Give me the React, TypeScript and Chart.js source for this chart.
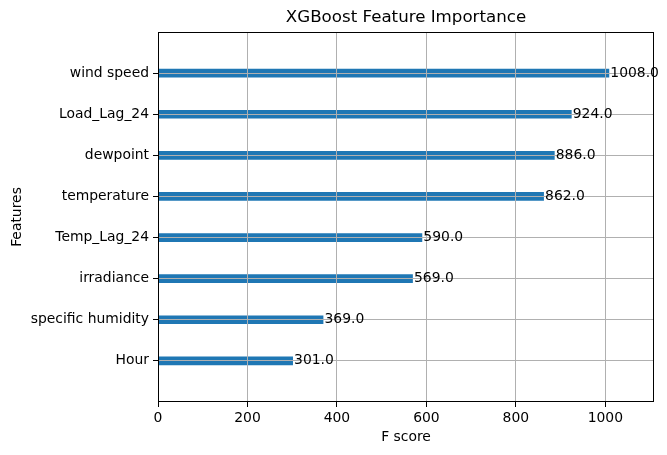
import React, { useEffect, useRef } from "react";
import { Chart, registerables } from "chart.js";

Chart.register(...registerables);

const features: string[] = [
  "wind speed",
  "Load_Lag_24",
  "dewpoint",
  "temperature",
  "Temp_Lag_24",
  "irradiance",
  "specific humidity",
  "Hour",
];
const scores: number[] = [1008, 924, 886, 862, 590, 569, 369, 301];
const xTicks: number[] = [0, 200, 400, 600, 800, 1000];
const titleText = "XGBoost Feature Importance";
const xTitle = "F score";
const yTitle = "Features";

const FONT = "'DejaVu Sans', sans-serif";
const FS = 13.9;

export default function App() {
  const ref = useRef<HTMLCanvasElement | null>(null);

  useEffect(() => {
    if (!ref.current) return;
    const n = features.length;
    const posOf = (i: number) => n - 1 - i;
    const xMax = Math.max(...scores) * 1.1;

    const overlay = {
      id: "overlay",
      afterDraw(chart: any) {
        const ctx = chart.ctx;
        const a = chart.chartArea;
        const xs = chart.scales.x;
        const ys = chart.scales.y;
        ctx.save();
        ctx.strokeStyle = "#000";
        ctx.lineWidth = 1;
        ctx.strokeRect(Math.round(a.left) + 0.5, Math.round(a.top) + 0.5, Math.round(a.right - a.left) - 1, Math.round(a.bottom - a.top) - 1);
        ctx.fillStyle = "#000";
        ctx.font = `${FS}px ${FONT}`;
        ctx.textAlign = "left";
        ctx.textBaseline = "middle";
        scores.forEach((v, i) => {
          ctx.fillText(v.toFixed(1), xs.getPixelForValue(v + 1) + 1, ys.getPixelForValue(posOf(i)));
        });
        ctx.textAlign = "center";
        ctx.font = `16.67px ${FONT}`;
        ctx.fillText(titleText, (a.left + a.right) / 2, 18);
        ctx.font = `${FS}px ${FONT}`;
        ctx.fillText(xTitle, (a.left + a.right) / 2, 437);
        ctx.translate(17, (a.top + a.bottom) / 2);
        ctx.rotate(-Math.PI / 2);
        ctx.fillText(yTitle, 0, 0);
        ctx.restore();
      },
    };

    const chart = new Chart(ref.current, {
      type: "bar",
      data: {
        datasets: [
          {
            data: scores.map((v, i) => ({ x: v, y: posOf(i) })),
            backgroundColor: "#1f77b4",
            borderWidth: 0,
            barThickness: 8,
          } as any,
        ],
      },
      options: {
        indexAxis: "y",
        animation: false,
        responsive: false,
        maintainAspectRatio: false,
        layout: { padding: { top: 32, right: 13, left: 0, bottom: 0 } },
        plugins: {
          legend: { display: false },
          title: { display: false },
          tooltip: { enabled: false },
        },
        scales: {
          x: {
            type: "linear",
            min: 0,
            max: xMax,
            offset: false,
            afterBuildTicks: (s: any) => {
              s.ticks = xTicks.map((v) => ({ value: v }));
            },
            afterFit: (s: any) => {
              s.height = 53;
            },
            grid: { color: "#b0b0b0", lineWidth: 1, tickLength: 5, tickColor: "#000", offset: false, z: 1 },
            border: { display: false },
            ticks: {
              color: "#000",
              font: { family: FONT, size: FS },
              padding: 3,
              maxRotation: 0,
              autoSkip: false,
              z: 1,
              callback: (v: any) => String(v),
            },
          },
          y: {
            type: "linear",
            min: -1,
            max: n,
            offset: false,
            afterBuildTicks: (s: any) => {
              s.ticks = features.map((_, i) => ({ value: i }));
            },
            afterFit: (s: any) => {
              s.width = 158;
            },
            grid: { color: "#b0b0b0", lineWidth: 1, tickLength: 5, tickColor: "#000", offset: false, z: 1 },
            border: { display: false },
            ticks: {
              color: "#000",
              font: { family: FONT, size: FS },
              padding: 4,
              autoSkip: false,
              z: 1,
              callback: (v: any) => features[n - 1 - Number(v)] ?? "",
            },
          },
        },
      } as any,
      plugins: [overlay],
    });
    return () => chart.destroy();
  }, []);

  return (
    <div style={{ position: "fixed", left: 0, top: 0, width: 667, height: 455, background: "#fff" }}>
      <canvas ref={ref} width={667} height={455} style={{ width: 667, height: 455 }} />
    </div>
  );
}
